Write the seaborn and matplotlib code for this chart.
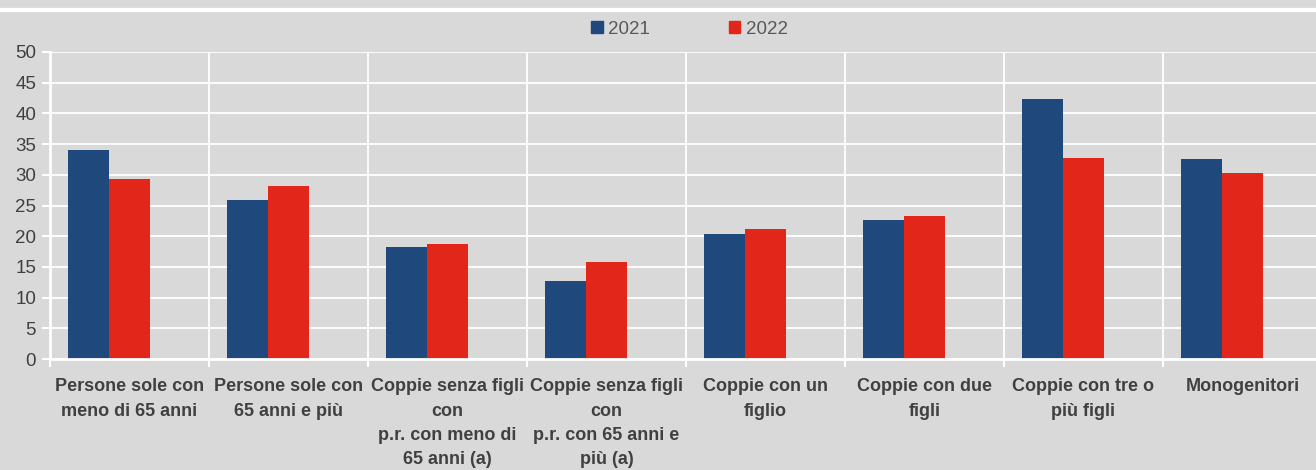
import pandas as pd
import matplotlib.pyplot as plt
from matplotlib.lines import Line2D
from matplotlib.patches import Patch
import seaborn as sns

# Data
categories = [
    "Persone sole con\nmeno di 65 anni",
    "Persone sole con\n65 anni e più",
    "Coppie senza figli\ncon\np.r. con meno di\n65 anni (a)",
    "Coppie senza figli\ncon\np.r. con 65 anni e\npiù (a)",
    "Coppie con un\nfiglio",
    "Coppie con due\nfigli",
    "Coppie con tre o\npiù figli",
    "Monogenitori",
]
values_2021 = [34.0, 25.9, 18.2, 12.7, 20.4, 22.6, 42.3, 32.6]
values_2022 = [29.3, 28.2, 18.7, 15.8, 21.2, 23.3, 32.7, 30.3]
series = ["2021", "2022"]

BG = "#d9d9d9"
BLUE = "#1f497d"
RED = "#e3261a"
TEXT = "#404040"

sns.set_theme(style="white")
plt.rcParams["font.family"] = ["Liberation Sans Narrow", "Liberation Sans", "DejaVu Sans"]

df = pd.DataFrame({
    "categoria": categories * 2,
    "anno": ["2021"] * len(categories) + ["2022"] * len(categories),
    "valore": values_2021 + values_2022,
})

fig = plt.figure(figsize=(13.16, 4.7), dpi=100, facecolor=BG)
ax = fig.add_axes([50 / 1316, 1 - 359 / 470, 1272 / 1316, (359 - 52) / 470])
ax.set_facecolor(BG)

# third (empty) hue level keeps the bars left-shifted like the original
sns.barplot(
    data=df, x="categoria", y="valore", hue="anno",
    order=categories, hue_order=series + ["_vuoto"],
    palette={"2021": BLUE, "2022": RED, "_vuoto": BG},
    width=0.77, errorbar=None, saturation=1, linewidth=0,
    legend=False, ax=ax,
)

ax.set_xlim(-0.5, len(categories) - 0.5)
ax.set_ylim(0, 50)
ax.set_yticks(range(0, 51, 5))
ax.set_xlabel("")
ax.set_ylabel("")

# gridlines
ax.set_xticks([i - 0.5 for i in range(len(categories) + 1)], minor=True)
ax.grid(axis="y", which="major", color="white", linewidth=1.3)
ax.grid(axis="x", which="minor", color="white", linewidth=1.3)
ax.set_axisbelow(True)

for side in ["top", "right"]:
    ax.spines[side].set_visible(False)
for side in ["left", "bottom"]:
    ax.spines[side].set_color("white")
    ax.spines[side].set_linewidth(2)

ax.tick_params(axis="y", which="major", left=True, length=6, width=1.5, color="white",
               labelsize=13.5, labelcolor=TEXT, pad=4)
ax.tick_params(axis="x", which="minor", bottom=True, length=6, width=1.5, color="white")
ax.tick_params(axis="x", which="major", bottom=False, length=0, pad=14)
for lab in ax.get_xticklabels():
    lab.set_fontsize(13)
    lab.set_fontweight("bold")
    lab.set_color(TEXT)
    lab.set_linespacing(1.55)

# legend on top
handles = [Patch(color=BLUE, label="2021"), Patch(color=RED, label="2022")]
fig.legend(handles=handles, loc="center", bbox_to_anchor=(0.524, 1 - 29 / 470), ncol=2,
           frameon=False, fontsize=13.5, labelcolor="#595959", handlelength=0.6,
           handleheight=0.6, handletextpad=0.3, columnspacing=4.2)

# white rule across the top
fig.add_artist(Line2D([0, 1], [1 - 9.5 / 470] * 2, transform=fig.transFigure,
                      color="white", linewidth=3))

fig.savefig("out.png", dpi=100, facecolor=BG)
